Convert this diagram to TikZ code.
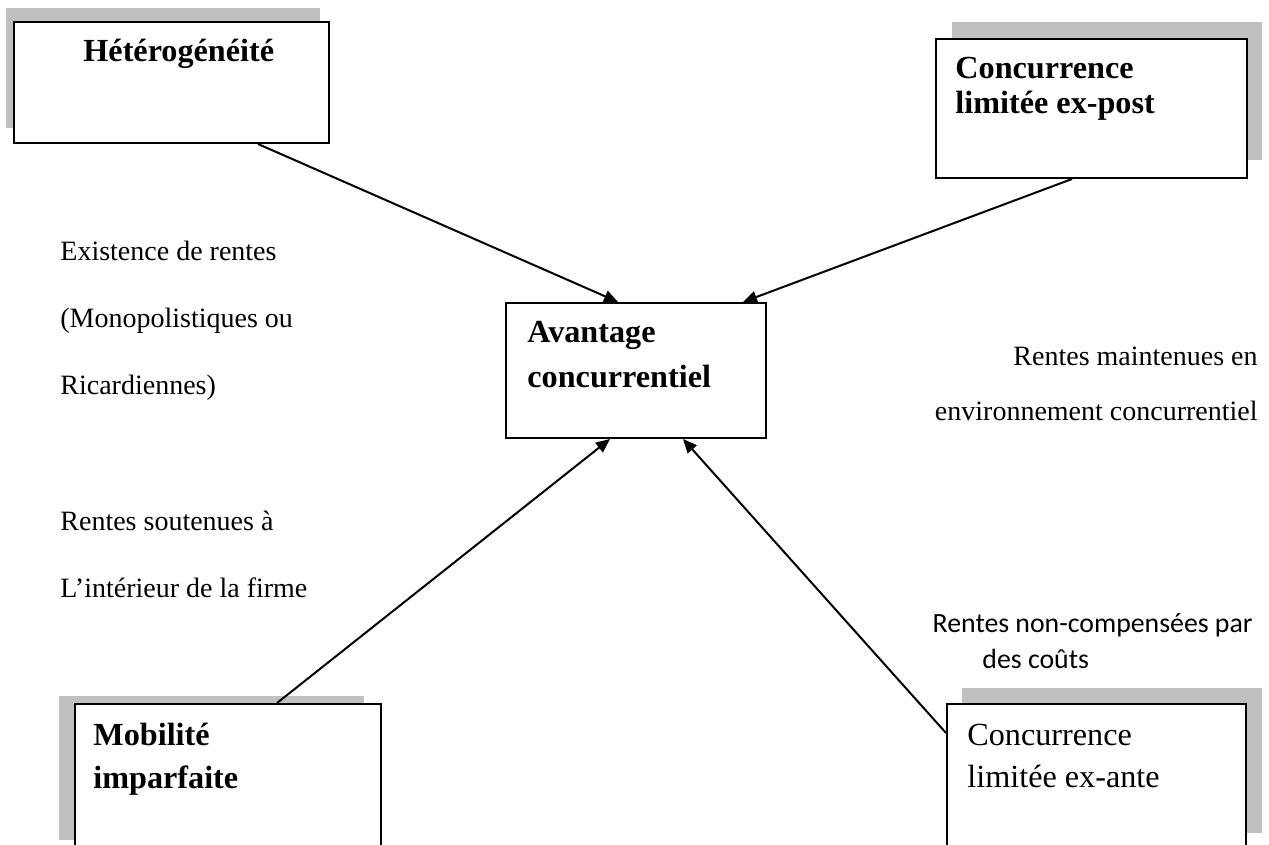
\documentclass[tikz,border=0pt]{standalone}
\usepackage{fontspec}
\setmainfont{Liberation Serif}
\newfontfamily\calib{Carlito}
\usetikzlibrary{arrows.meta,calc}

\definecolor{shadowgrey}{RGB}{192,192,192}

\tikzset{
  box/.style={draw=black, line width=1pt, fill=white, rectangle, anchor=north west, inner sep=0pt},
  shade/.style={fill=shadowgrey, draw=none},
  title/.style={anchor=base west, inner sep=0pt, font=\fontsize{16.1pt}{18pt}\selectfont\bfseries},
  plaintitle/.style={anchor=base west, inner sep=0pt, font=\fontsize{16.1pt}{18pt}\selectfont},
  note/.style={inner sep=0pt, font=\fontsize{14pt}{16pt}\selectfont},
  cnote/.style={inner sep=0pt, font=\fontsize{13.9pt}{16pt}\selectfont\calib},
  link/.style={line width=1pt, -{Triangle[length=7pt,width=6pt]}}
}

\begin{document}
\begin{tikzpicture}[x=0.5pt, y=-0.5pt]
\useasboundingbox (0,0) rectangle (1269,845);
\clip (0,0) rectangle (1269,845);

% drop shadows
\fill[shade] (6,8) rectangle (320,128);
\fill[shade] (952,22) rectangle (1262,160);
\fill[shade] (59,696) rectangle (364,840);
\fill[shade] (962,688) rectangle (1262,833);

% boxes
\node[box, minimum width=157.5pt, minimum height=60.5pt] (het) at (13,21) {};
\node[box, minimum width=155.5pt, minimum height=69.5pt] (post) at (935,38) {};
\node[box, minimum width=130pt, minimum height=67.5pt] (avant) at (505,302) {};
\node[box, minimum width=153pt, minimum height=80pt] (mob) at (74,703) {};
\node[box, minimum width=149.5pt, minimum height=80pt] (ante) at (946,703) {};

% box texts
\node[title] (t1) at (83,62) {Hétérogénéité};
\node[title] (t2a) at (955,79) {Concurrence};
\node[title] (t2b) at (955,114) {limitée ex-post};
\node[title] (t3a) at (527,343) {Avantage};
\node[title] (t3b) at (527,387) {concurrentiel};
\node[title] (t4a) at (93,745) {Mobilité};
\node[title] (t4b) at (93,788) {imparfaite};
\node[plaintitle] (t5a) at (967,745) {Concurrence};
\node[plaintitle] (t5b) at (967,787) {limitée ex-ante};

% side notes
\node[note, anchor=base west] (n1) at (60,261) {Existence de rentes};
\node[note, anchor=base west] (n2) at (60,328) {(Monopolistiques ou};
\node[note, anchor=base west] (n3) at (60,394) {Ricardiennes)};
\node[note, anchor=base west] (n4) at (60,530) {Rentes soutenues à};
\node[note, anchor=base west] (n5) at (60,597) {L’intérieur de la firme};
\node[note, anchor=base east] (n6) at (1258,365) {Rentes maintenues en};
\node[note, anchor=base east] (n7) at (1258,420) {environnement concurrentiel};
\node[cnote, anchor=base east] (n8) at (1253,632) {Rentes non-compensées par};
\node[cnote, anchor=base west] (n9) at (982,668) {des coûts};

% connectors
\draw[link] ($(het.south west)+(245,0)$) -- ($(avant.north west)+(113,0)$);
\draw[link] ($(post.south west)+(137,0)$) -- ($(avant.north west)+(238,0)$);
\draw[link] ($(mob.north west)+(203,0)$) -- ($(avant.south west)+(105,0)$);
\draw[link] ($(ante.north west)+(0,30)$) -- ($(avant.south west)+(178,0)$);
\end{tikzpicture}
\end{document}
